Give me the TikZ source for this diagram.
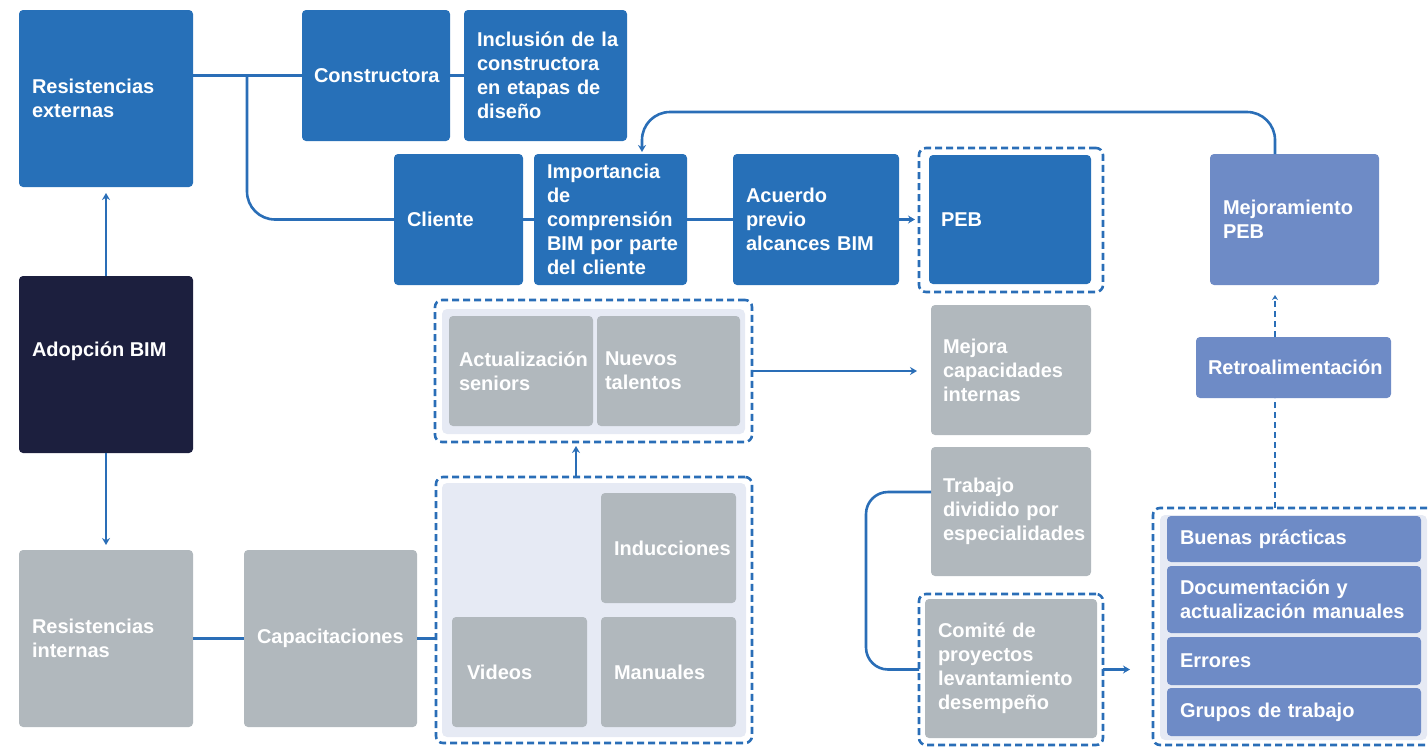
\documentclass[tikz,border=0pt]{standalone}
\usepackage{fontspec}
\setmainfont{Liberation Sans}
\usetikzlibrary{arrows.meta,calc}
\definecolor{cblue}{HTML}{2770B8}
\definecolor{cdark}{HTML}{1C1F3E}
\definecolor{cgray}{HTML}{B1B8BD}
\definecolor{cpurp}{HTML}{6E8BC6}
\definecolor{clight}{HTML}{E6EAF4}
\definecolor{cline}{HTML}{2A6EB7}
\newcommand\bx[8][13]{%
  \pgfmathsetmacro\bxw{#6-#4-2*#1}%
  \pgfmathsetmacro\bxh{#7-#5}%
  \node[#2, inner xsep=#1pt, text width=\bxw pt, minimum height=\bxh pt, anchor=north west] (#3) at (#4,#5) {#8};}
\begin{document}
\begin{tikzpicture}[x=1pt,y=-1pt,
  every node/.style={outer sep=0pt, inner ysep=0pt, align=left, text=white,
     font=\bfseries\fontsize{20}{24}\selectfont},
  bb/.style={fill=cblue, rounded corners=4pt},
  dk/.style={fill=cdark, rounded corners=4pt},
  gb/.style={fill=cgray, rounded corners=4pt},
  pb/.style={fill=cpurp, rounded corners=4pt},
  lightbg/.style={fill=clight, rounded corners=5pt},
  dashbox/.style={draw=cline, line width=2.6pt, dash pattern=on 7pt off 4pt, rounded corners=7pt},
  txt/.style={inner xsep=0pt},
  conn/.style={draw=cline, line width=2.6pt},
  arr/.style={conn, -{Stealth[length=7pt,width=8pt]}},
  darr/.style={conn, dash pattern=on 6pt off 4pt, -{Stealth[length=5pt,width=6pt]}}
]
\useasboundingbox (0,0) rectangle (1428,747);
% boxes
\bx{bb}{resext}{19}{10}{193}{187}{Resistencias\\externas}
\bx[12]{bb}{constr}{302}{10}{450}{141}{Constructora}
\bx{bb}{incl}{464}{10}{627}{141}{\mbox{Inclusión de la}\\constructora\\\mbox{en etapas de}\\diseño}
\bx{bb}{cli}{394}{154}{523}{285}{Cliente}
\bx{bb}{imp}{534}{154}{687}{285}{Importancia\\de\\comprensión\\\mbox{BIM por parte}\\\mbox{del cliente}}
\bx{bb}{acu}{733}{154}{899}{285}{Acuerdo\\previo\\\mbox{alcances BIM}}
\bx{dashbox}{pebg}{919}{148}{1103}{292}{}
\bx[12]{bb}{peb}{929}{155}{1091}{284}{PEB}
\bx{pb}{mej}{1210}{154}{1379}{285}{Mejoramiento\\PEB}
\bx{dk}{adop}{19}{276}{193}{453}{}
\node[txt, anchor=west] (adopt) at ($(adop.west)+(13,-13)$) {Adopción BIM};
\bx{lightbg}{g1bg}{442}{309}{745}{434}{}
\bx{dashbox}{g1}{435}{300}{752}{442}{}
\bx[10]{gb}{act}{449}{316}{593}{426}{Actualización\\seniors}
\bx[8]{gb}{nue}{597}{316}{740}{426}{Nuevos\\talentos}
\bx[12]{gb}{mejc}{931}{305}{1091}{435}{Mejora\\capacidades\\internas}
\bx[12]{gb}{trab}{931}{447}{1091}{576}{Trabajo\\\mbox{dividido por}\\especialidades}
\bx{dashbox}{comg}{919}{594}{1103}{745}{}
\bx{gb}{com}{925}{599}{1097}{738}{Comité de\\proyectos\\levantamiento\\desempeño}
\bx[12]{pb}{retro}{1196}{337}{1391}{398}{Retroalimentación}
\bx{lightbg}{rgbg}{1160}{515}{1427}{740}{}
\bx{dashbox}{rg}{1153}{508}{1445}{745}{}
\bx{pb}{bue}{1167}{516}{1421}{562}{Buenas prácticas}
\bx{pb}{doc}{1167}{566}{1421}{633}{Documentación y\\\mbox{actualización manuales}}
\bx{pb}{err}{1167}{637}{1421}{685}{Errores}
\bx{pb}{gru}{1167}{688}{1421}{736}{Grupos de trabajo}
\bx{gb}{resint}{19}{550}{193}{727}{Resistencias\\internas}
\bx{gb}{cap}{244}{550}{417}{727}{Capacitaciones}
\bx{lightbg}{g2bg}{442}{483}{746}{737}{}
\bx{dashbox}{g2}{436}{477}{752}{743}{}
\bx{gb}{ind}{601}{493}{736}{603}{Inducciones}
\bx[15]{gb}{vid}{452}{617}{587}{727}{Videos}
\bx{gb}{man}{601}{617}{736}{727}{Manuales}
% helper coordinates
\coordinate (bx) at (247,0);
\coordinate (vx) at (1275,0);
\coordinate (ix) at (642,0);
\coordinate (ty) at (0,112);
\coordinate (gx) at (576,0);
\coordinate (tx) at (866,0);
\coordinate (tw) at ($(trab.west)+(0,-19.5)$);
% connectors
\draw[conn] (resext.east |- constr.west) -- (constr.west);
\draw[conn] (constr.east) -- (incl.west);
\draw[conn, rounded corners=28pt] (bx |- constr.west) |- (cli.west);
\draw[conn] (cli.east) -- (imp.west);
\draw[conn] (imp.east) -- (acu.west);
\draw[arr, shorten >=4pt] (acu.east) -- (acu.east -| pebg.west);
\draw[arr, rounded corners=28pt, shorten >=2pt] (vx |- mej.north) -- (vx |- ty) -- (ix |- ty) -- (ix |- imp.north);
\draw[arr, shorten >=6pt] (adop.north) -- (resext.south);
\draw[arr, shorten >=5pt] (adop.south) -- (resint.north);
\draw[conn] (resint.east) -- (cap.west);
\draw[conn] (cap.east) -- (cap.east -| g2.west);
\draw[arr, shorten >=4pt] (gx |- g2.north) -- (gx |- g1.south);
\draw[arr, shorten >=14pt] (g1.east) -- (g1.east -| mejc.west);
\draw[conn, rounded corners=22pt] (tw) -- (tx |- tw) -- (tx |- comg.west) -- (comg.west);
\draw[arr, shorten >=23pt] (comg.east) -- (comg.east -| rg.west);
\draw[conn, dash pattern=on 6pt off 4pt] (vx |- rg.north) -- (vx |- retro.south);
\draw[darr, shorten >=10pt] (vx |- retro.north) -- (vx |- mej.south);
\end{tikzpicture}
\end{document}
